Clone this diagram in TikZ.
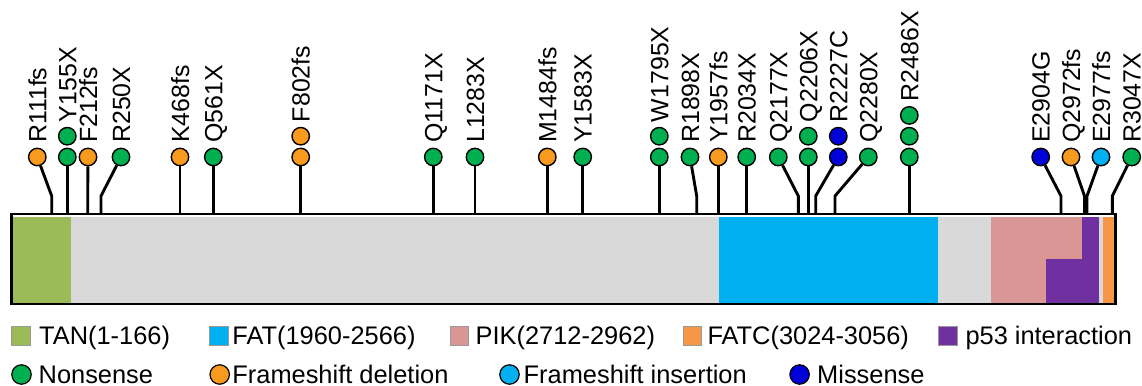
\documentclass[tikz,border=0pt]{standalone}
\usepackage{fontspec}
\setmainfont{Liberation Sans}
\definecolor{domtan}{HTML}{9BBB59}
\definecolor{domfat}{HTML}{00B0F0}
\definecolor{dompik}{HTML}{D99694}
\definecolor{domfatc}{HTML}{F79646}
\definecolor{domp53}{HTML}{7030A0}
\definecolor{barbg}{HTML}{D9D9D9}
\definecolor{nons}{HTML}{00B050}
\definecolor{fsdel}{HTML}{F79A1E}
\definecolor{fsins}{HTML}{00B0F0}
\definecolor{miss}{HTML}{0000D8}
\begin{document}
\begin{tikzpicture}[x=1bp,y=1bp,
  mutdot/.style={circle,draw=black,line width=1.4,minimum size=17.5,inner sep=0},
  stalk/.style={line width=2.9,line join=miter},
  mutlabel/.style={rotate=90,anchor=base west,inner sep=0,font=\fontsize{25}{25}\selectfont},
  legbox/.style={draw=gray!80,line width=0.8,minimum size=18.5,inner sep=0},
  legdot/.style={circle,draw=black,line width=1.2,minimum size=19.5,inner sep=0},
  legtext/.style={anchor=base west,inner sep=0,font=\fontsize{25.5}{25.5}\selectfont}]
\useasboundingbox (0,0) rectangle (1142,385);
% protein bar
\fill[barbg] (13,82.5) rectangle (1114,168.5);
\fill[domtan] (13,82.5) rectangle (70.7,168.5);
\fill[domfat] (719.3,82.5) rectangle (938.3,168.5);
\fill[dompik] (991,82.5) rectangle (1081.7,168.5);
\fill[domp53] (1081.7,82.5) rectangle (1099.3,168.5);
\fill[domp53] (1045.5,82.5) rectangle (1081.7,125.7);
\fill[domfatc] (1103.3,82.5) rectangle (1114,168.5);
\draw[line width=2.9] (11.5,81) rectangle (1115.5,171);
% mutations
\foreach \nm/\sx/\cx/\nc/\cols/\lab in {
 a/51.7/37.3/1/fsdel/R111fs,
 b/67.3/67.3/2/{nons,nons}/Y155X,
 c/87.7/88/1/fsdel/F212fs,
 d/101/121/1/nons/R250X,
 e/180/180/1/fsdel/K468fs,
 f/213.3/213.3/1/nons/Q561X,
 g/300.7/300.7/2/{fsdel,fsdel}/F802fs,
 h/433.3/433.3/1/nons/Q1171X,
 i/475/475/1/nons/L1283X,
 j/547.3/547.3/1/fsdel/M1484fs,
 k/582.7/582.7/1/nons/Y1583X,
 l/659.3/659.3/2/{nons,nons}/W1795X,
 m/696.7/690/1/nons/R1898X,
 n/718.3/718.3/1/fsdel/Y1957fs,
 o/746.7/746.7/1/nons/R2034X,
 p/798.3/778.3/1/nons/Q2177X,
 q/808.3/808.3/2/{nons,nons}/Q2206X,
 r/815.7/838.3/2/{miss,miss}/R2227C,
 s/835/868.3/1/nons/Q2280X,
 t/909.3/909.3/3/{nons,nons,nons}/R2486X,
 u/1061/1040.7/1/miss/E2904G,
 v/1084.5/1071/1/fsdel/Q2972fs,
 w/1087/1101/1/fsins/E2977fs,
 x/1112.3/1131.7/1/nons/R3047X}{
  \coordinate (\nm-base) at (\sx,171);
  \coordinate (\nm-bend) at (\sx,189);
  \foreach \cc [count=\ci] in \cols {
    \node[mutdot,fill=\cc] (\nm-\ci) at (\cx,{228+20.8*(\ci-1)}) {};
  }
  \draw[stalk] (\nm-base) -- (\nm-bend) -- (\nm-1);
  \node[mutlabel] (\nm-lab) at ({\cx+9},{242+20.8*(\nc-1)}) {\lab};
}
% legend row 1
\foreach \nm/\bx/\col/\tx/\txt in {
 l1/21/domtan/39/TAN(1-166),
 l2/219/domfat/232.2/FAT(1960-2566),
 l3/459.3/dompik/475.5/PIK(2712-2962),
 l4/692.5/domfatc/707.3/FATC(3024-3056),
 l5/948/domp53/965.3/p53 interaction}{
  \node[legbox,fill=\col] (\nm-box) at (\bx,49.2) {};
  \node[legtext] (\nm-txt) at (\tx,40.3) {\txt};
}
% legend row 2
\foreach \nm/\bx/\col/\tx/\txt in {
 k1/21.5/nons/38.5/Nonsense,
 k2/219.7/fsdel/232.2/Frameshift deletion,
 k3/509.5/fsins/523.5/Frameshift insertion,
 k4/799.6/miss/817/Missense}{
  \node[legdot,fill=\col] (\nm-dot) at (\bx,10.5) {};
  \node[legtext] (\nm-txt) at (\tx,1.9) {\txt};
}
\end{tikzpicture}
\end{document}
